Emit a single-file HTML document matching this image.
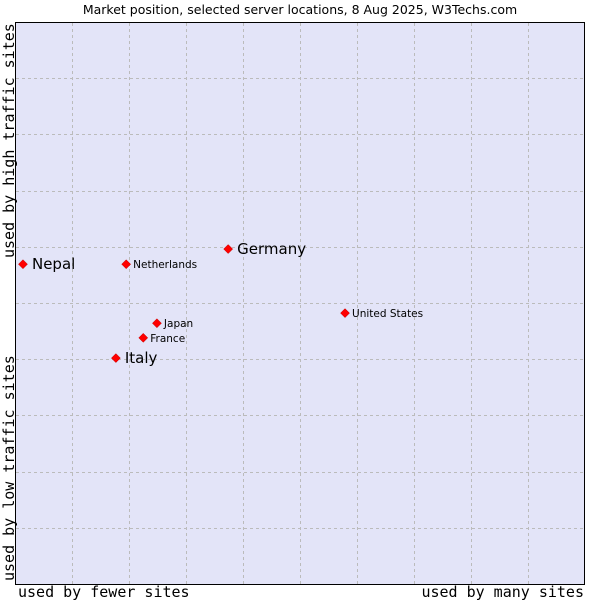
<!DOCTYPE html>
<html><head><meta charset="utf-8"><style>
body{margin:0;background:#fff;}
svg text{font-family:"DejaVu Sans","Liberation Sans",sans-serif;}
.mono{font-family:"DejaVu Sans Mono","Liberation Mono",monospace !important;}
</style></head><body>
<svg id="chart" width="600" height="600">
<text x="300" y="14" text-anchor="middle" font-size="12.5" fill="#000">Market position, selected server locations, 8 Aug 2025, W3Techs.com</text>
<rect x="15.5" y="22.5" width="569" height="562" fill="#e3e4f8" stroke="#000" stroke-width="1"/>
<g id="grid"></g>
<g id="points"></g>
<text class="mono" x="18" y="597" font-size="15">used by fewer sites</text>
<text class="mono" x="584" y="597" font-size="15" text-anchor="end">used by many sites</text>
<text class="mono" transform="translate(14,581) rotate(-90)" font-size="15">used by low traffic sites</text>
<text class="mono" transform="translate(14,258) rotate(-90)" font-size="15">used by high traffic sites</text>
</svg>
<script>
const names = ["Nepal","Netherlands","Germany","United States","Japan","France","Italy"];
const xValues = [1.4,19.5,37.4,57.9,24.9,22.5,17.7];
const yValues = [56.9,56.9,59.6,48.2,46.4,43.8,40.2];
const bigLabel = [true,false,true,false,false,false,true];
const L=15,R=585,T=22,B=584;
const sx=v=>L+v/100*(R-L), sy=v=>B-v/100*(B-T);
const NS="http://www.w3.org/2000/svg";
const grid=document.getElementById('grid');
for(let i=1;i<10;i++){
  const vx=document.createElementNS(NS,'line');
  
  
  const x=Math.round(sx(i*10))+0.5;
  vx.setAttribute('x1',x);vx.setAttribute('x2',x);vx.setAttribute('y1',T+1);vx.setAttribute('y2',B);
  vx.setAttribute('stroke','#bbb');vx.setAttribute('stroke-dasharray','3,3');
  grid.appendChild(vx);
  const hz=document.createElementNS(NS,'line');
  
  
  const y=Math.round(sy(i*10))+0.5;
  hz.setAttribute('y1',y);hz.setAttribute('y2',y);hz.setAttribute('x1',L+1);hz.setAttribute('x2',R);
  hz.setAttribute('stroke','#bbb');hz.setAttribute('stroke-dasharray','3,3');
  grid.appendChild(hz);
}
const pts=document.getElementById('points');
names.forEach((n,i)=>{
  const x=sx(xValues[i]),y=sy(yValues[i]);
  const d=document.createElementNS(NS,'polygon');
  
  
  d.setAttribute('points',`${x},${y-4.5} ${x+4.5},${y} ${x},${y+4.5} ${x-4.5},${y}`);
  d.setAttribute('fill','#f00');d.setAttribute('stroke','#b00');d.setAttribute('stroke-width','0.5');
  pts.appendChild(d);
  const t=document.createElementNS(NS,'text');
  
  
  t.setAttribute('x',x+(bigLabel[i]?9:7));
  t.setAttribute('y',y+(bigLabel[i]?5:4));
  t.setAttribute('font-size',bigLabel[i]?'15':'10.5');
  t.textContent=n;
  pts.appendChild(t);
});
</script>
</body></html>
